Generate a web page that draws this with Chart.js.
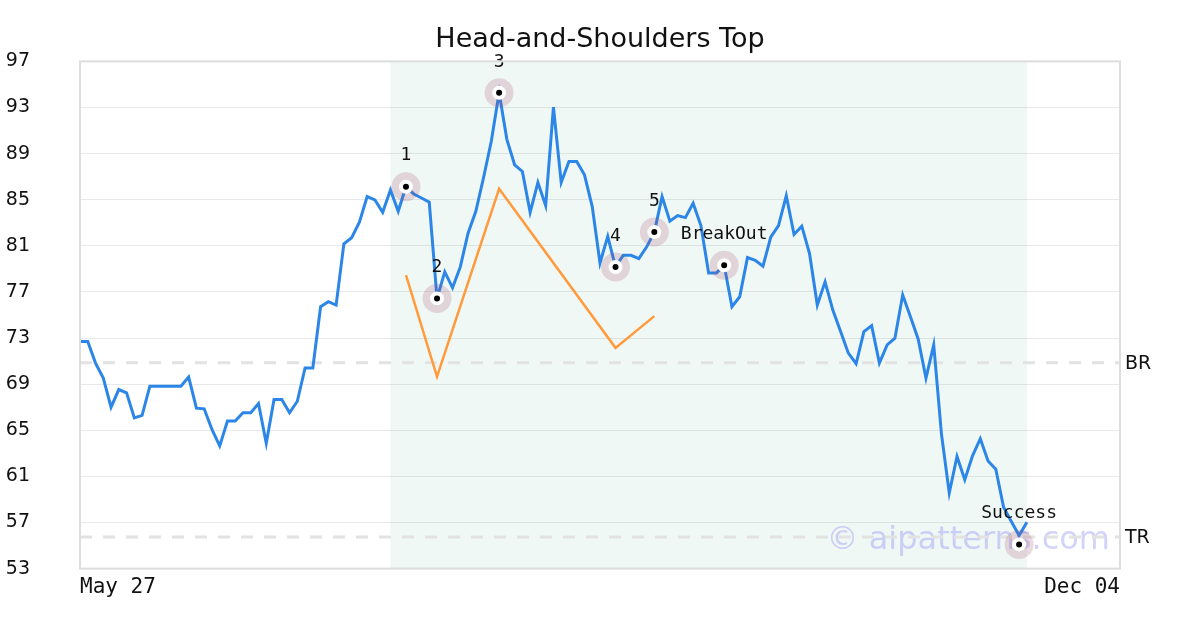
<!DOCTYPE html>
<html>
<head>
<meta charset="utf-8">
<script src="https://cdn.jsdelivr.net/npm/chart.js@4.4.1/dist/chart.umd.min.js"></script>
<style>
  html, body { margin: 0; padding: 0; background: #fff; }
  #wrap { width: 1200px; height: 630px; }
</style>
</head>
<body>
<div id="wrap"><canvas id="myChart" width="1200" height="630"></canvas></div>
<script>
// Chart data (one value per trading day)
const xTickLabels = ['May 27', 'Dec 04'];
const xTickPositions = [0, 134];

const priceValues = [
  72.7, 72.7, 70.83, 69.53, 67.0, 68.53, 68.24, 66.08, 66.29, 68.82,
  68.82, 68.82, 68.82, 68.82, 69.62, 66.92, 66.86, 65.08, 63.64, 65.8,
  65.8, 66.52, 66.52, 67.32, 63.87, 67.67, 67.67, 66.52, 67.52, 70.4,
  70.4, 75.72, 76.15, 75.86, 81.18, 81.7, 83.05, 85.27, 84.98, 83.91,
  85.84, 84.0, 86.13, 85.5, 85.15, 84.78, 76.44, 78.74, 77.36, 79.17,
  82.1, 84.0, 86.93, 90.1, 94.27, 90.24, 88.03, 87.45, 83.91, 86.5,
  84.49, 93.03, 86.5, 88.31, 88.31, 87.16, 84.4, 79.51, 81.82, 79.17,
  80.18, 80.18, 79.89, 80.89, 82.19, 85.27, 83.14, 83.63, 83.45, 84.69,
  82.76, 78.65, 78.65, 79.31, 75.72, 76.58, 79.98, 79.75, 79.23, 81.76,
  82.76, 85.35, 81.99, 82.71, 80.32, 75.86, 77.88, 75.43, 73.56, 71.69,
  70.77, 73.56, 74.08, 70.83, 72.41, 72.99, 76.73, 74.85, 72.9, 69.53,
  72.41, 64.65, 59.56, 62.72, 60.71, 62.78, 64.27, 62.34, 61.63, 58.32,
  57.08, 55.87, 57.03
];

// orange pattern outline
const patternIdx = [42, 46, 54, 69, 74];
const patternVals = [78.45, 69.65, 85.95, 72.15, 74.9];

// marked points and their labels
const markerIdx = [42, 46, 54, 69, 74, 83, 121];
const markerVals = [86.13, 76.44, 94.27, 79.17, 82.19, 79.31, 55.1];
const markerLabels = ['1', '2', '3', '4', '5', 'BreakOut', 'Success'];

// breakout / target levels
const breakoutLevel = 70.85;
const targetLevel = 55.75;

// shaded pattern window (first and last index)
const shadeRange = [40, 122];

const yMin = 53;
const yMax = 97;

let priceData = priceValues.map((v, i) => ({ x: i, y: v }));
let patternData = patternIdx.map((idx, i) => ({ x: idx, y: patternVals[i] }));
let markerData = markerIdx.map((idx, i) => ({ x: idx, y: markerVals[i] }));

// background shading, plot frame, title, level labels and watermark
const decorPlugin = {
  id: 'decor',
  beforeDatasetsDraw(chart) {
    const ctx = chart.ctx;
    const area = chart.chartArea;
    const xs = chart.scales.x;

    ctx.save();
    let x0 = xs.getPixelForValue(shadeRange[0]);
    let x1 = xs.getPixelForValue(shadeRange[1]);
    ctx.fillStyle = 'rgba(0, 128, 96, 0.06)';
    ctx.fillRect(x0, area.top, x1 - x0, area.bottom - area.top);

    // watermark
    ctx.font = '32px "DejaVu Sans"';
    ctx.fillStyle = 'rgba(110, 110, 240, 0.3)';
    ctx.textAlign = 'right';
    ctx.textBaseline = 'alphabetic';
    ctx.fillText('\u00a9 aipatterns.com', area.right - 10, area.bottom - 20);
    ctx.restore();
  },
  afterDatasetsDraw(chart) {
    const ctx = chart.ctx;
    const area = chart.chartArea;
    const xs = chart.scales.x;
    const ys = chart.scales.y;

    ctx.save();
    // marker labels
    ctx.font = '18px "DejaVu Sans Mono"';
    ctx.fillStyle = '#111';
    ctx.textAlign = 'center';
    ctx.textBaseline = 'middle';
    for (let i = 0; i < markerIdx.length; i++) {
      let px = xs.getPixelForValue(markerIdx[i]);
      let py = ys.getPixelForValue(markerVals[i]);
      ctx.fillText(markerLabels[i], px, py - 31);
    }

    // frame
    ctx.strokeStyle = '#dddddd';
    ctx.lineWidth = 2;
    ctx.strokeRect(area.left, area.top, area.right - area.left, area.bottom - area.top);

    // level labels on the right
    ctx.font = '19px "DejaVu Sans"';
    ctx.textAlign = 'left';
    ctx.fillText('BR', area.right + 5, ys.getPixelForValue(breakoutLevel) + 1);
    ctx.fillText('TR', area.right + 5, ys.getPixelForValue(targetLevel) + 1);

    // title
    ctx.font = '27px "DejaVu Sans"';
    ctx.textAlign = 'center';
    ctx.fillText('Head-and-Shoulders Top', (area.left + area.right) / 2, 40);
    ctx.restore();
  }
};

const myChart = document.getElementById('myChart');

let lineChart = new Chart(myChart, {
  type: 'line',
  data: {
    datasets: [
      {
        label: 'dots',
        type: 'scatter',
        data: markerData,
        showLine: false,
        pointRadius: 5,
        pointBackgroundColor: '#000',
        pointBorderColor: '#fff',
        pointBorderWidth: 4,
        order: 0
      },
      {
        label: 'halo',
        type: 'scatter',
        data: markerData,
        showLine: false,
        pointRadius: 14.5,
        pointBackgroundColor: 'rgba(160, 70, 105, 0.2)',
        pointBorderWidth: 0,
        order: 1
      },
      {
        label: 'price',
        data: priceData,
        borderColor: '#2b86e8',
        borderWidth: 3,
        pointRadius: 0,
        tension: 0,
        order: 2
      },
      {
        label: 'pattern',
        data: patternData,
        borderColor: '#ff9b3d',
        borderWidth: 2.5,
        pointRadius: 0,
        tension: 0,
        order: 3
      },
      {
        label: 'BR',
        data: [{ x: xTickPositions[0], y: breakoutLevel }, { x: xTickPositions[1], y: breakoutLevel }],
        borderColor: '#e2e2e2',
        borderWidth: 3,
        borderDash: [12, 11],
        pointRadius: 0,
        order: 4
      },
      {
        label: 'TR',
        data: [{ x: xTickPositions[0], y: targetLevel }, { x: xTickPositions[1], y: targetLevel }],
        borderColor: '#e2e2e2',
        borderWidth: 3,
        borderDash: [12, 11],
        pointRadius: 0,
        order: 4
      }
    ]
  },
  options: {
    responsive: false,
    animation: false,
    events: [],
    layout: { padding: { left: 0, right: 80, top: 60, bottom: 0 } },
    plugins: {
      legend: { display: false },
      tooltip: { enabled: false },
      title: { display: false }
    },
    scales: {
      x: {
        type: 'linear',
        min: xTickPositions[0],
        max: xTickPositions[1],
        grid: { display: false, drawTicks: false },
        border: { display: false },
        afterBuildTicks: (scale) => {
          scale.ticks = xTickPositions.map(v => ({ value: v }));
        },
        afterFit: (scale) => { scale.height = 58; },
        ticks: {
          autoSkip: false,
          maxRotation: 0,
          align: 'inner',
          padding: 6,
          color: '#111',
          font: { family: 'DejaVu Sans Mono', size: 21 },
          callback: (value) => xTickLabels[xTickPositions.indexOf(value)]
        }
      },
      y: {
        min: yMin,
        max: yMax,
        grid: { color: '#e9e9e9', lineWidth: 1, drawTicks: false },
        border: { display: false },
        afterFit: (scale) => { scale.width = 80; },
        ticks: {
          stepSize: 4,
          padding: 50,
          color: '#111',
          font: { family: 'DejaVu Sans', size: 19 }
        }
      }
    }
  },
  plugins: [decorPlugin]
});
</script>
</body>
</html>
